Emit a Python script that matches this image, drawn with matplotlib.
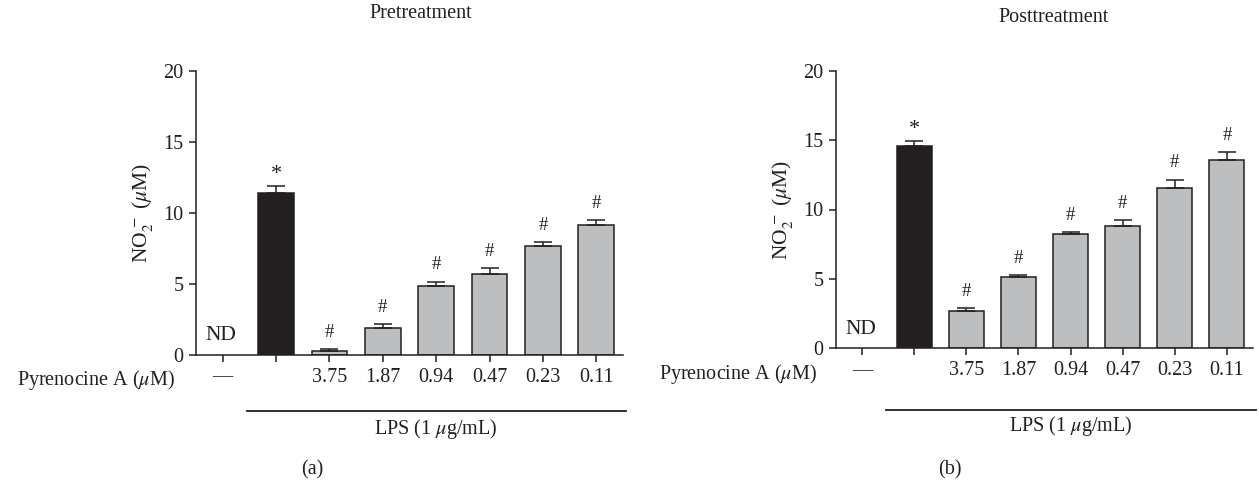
import numpy as np
import matplotlib
matplotlib.use("Agg")
import matplotlib.pyplot as plt
import matplotlib.transforms as transforms

plt.rcParams['font.family'] = ['Liberation Serif', 'DejaVu Serif']
plt.rcParams['mathtext.fontset'] = 'stix'
plt.rcParams['font.size'] = 14.5

# Data (NO2- concentration, uM)
doses = ["\u2014", "", "3.75", "1.87", "0.94", "0.47", "0.23", "0.11"]
marks = ["ND", "*", "#", "#", "#", "#", "#", "#"]
pre_mean = [0, 11.4, 0.28, 1.9, 4.85, 5.7, 7.7, 9.15]
pre_err = [0, 0.5, 0.12, 0.25, 0.3, 0.4, 0.25, 0.33]
post_mean = [0, 14.6, 2.7, 5.15, 8.25, 8.8, 11.55, 13.57]
post_err = [0, 0.35, 0.17, 0.12, 0.1, 0.45, 0.6, 0.55]

W, H = 1259, 484
DARK = '#231f20'
GRAY = '#bcbec0'


# Helper, converts pixel box to figure fractions
def px_axes(fig, x0, x1, ytop, ybot):
    return fig.add_axes([x0 / W, 1 - ybot / H, (x1 - x0) / W, (ybot - ytop) / H])


# Plot-Function, draws one panel
def plot_panel(fig, ax, means, errs, title, title_xy, lab_y, line_y, lps_y, letter, letter_xy, pyr_x):
    x = np.arange(len(means))
    colors = [GRAY] * len(means)
    colors[1] = DARK
    # skip the not-detected control
    ax.bar(x[1:], means[1:], width=0.67, color=colors[1:], edgecolor=DARK, linewidth=1.1, zorder=2)
    lower = np.zeros(len(means) - 1)
    ax.errorbar(x[1:], means[1:], yerr=[lower, errs[1:]], fmt='none', ecolor=DARK,
                elinewidth=1.1, capsize=6.5, capthick=1.1, zorder=3)

    for i, m in enumerate(marks):
        if m == "ND":
            ax.annotate(m, xy=(i, 0), xytext=(-1, 13.7), textcoords='offset points',
                        ha='center', va='center', fontsize=15.5, color=DARK)
        elif m == "*":
            ax.annotate(m, xy=(i, means[i] + errs[i]), xytext=(0, 1),
                        textcoords='offset points', ha='center', va='bottom',
                        fontsize=16, color=DARK)
        else:
            ax.annotate(m, xy=(i, means[i] + errs[i]), xytext=(0, 6),
                        textcoords='offset points', ha='center', va='bottom',
                        fontsize=13.5, color=DARK)

    ax.set_xlim(-0.5, len(means) - 0.5)
    ax.set_ylim(0, 20)
    ax.set_yticks([0, 5, 10, 15, 20])
    ax.set_xticks(x)
    ax.set_xticklabels(doses)
    ax.spines['top'].set_visible(False)
    ax.spines['right'].set_visible(False)
    for s in ['left', 'bottom']:
        ax.spines[s].set_linewidth(1.1)
        ax.spines[s].set_color(DARK)
    ax.tick_params(direction='out', length=5, width=1.1, color=DARK, labelcolor=DARK, pad=4)
    ax.set_ylabel(r"NO$_2^{\,-}$ ($\mu$M)", labelpad=6, color=DARK, fontsize=15.5)

    fig.text(title_xy[0] / W, 1 - title_xy[1] / H, title, ha='center', va='center', color=DARK)
    fig.text(pyr_x / W, 1 - lab_y / H, r"Pyrenocine A ($\mu$M)", ha='right', va='center', color=DARK)

    # LPS bracket line below the treated groups
    trans = transforms.blended_transform_factory(ax.transData, fig.transFigure)
    ax.plot([0.45, 7.56], [1 - line_y / H] * 2, transform=trans, color=DARK, lw=1.3, clip_on=False)
    ax.text(4.0, 1 - lps_y / H, r"LPS (1 $\mu$g/mL)", transform=trans, ha='center', va='center', color=DARK)
    fig.text(letter_xy[0] / W, 1 - letter_xy[1] / H, letter, ha='center', va='center', color=DARK)


def main():
    fig = plt.figure(figsize=(W / 100, H / 100), dpi=100)
    ax_a = px_axes(fig, 196, 623, 70.7, 355)
    ax_b = px_axes(fig, 836, 1253, 70.7, 348.3)
    plot_panel(fig, ax_a, pre_mean, pre_err, "Pretreatment", (421, 14), 380, 411, 429, "(a)", (312, 470), 175)
    plot_panel(fig, ax_b, post_mean, post_err, "Posttreatment", (1054, 18), 374, 410, 426, "(b)", (950, 470), 817)
    fig.savefig("out.png", dpi=100)


if __name__ == '__main__':
    main()
